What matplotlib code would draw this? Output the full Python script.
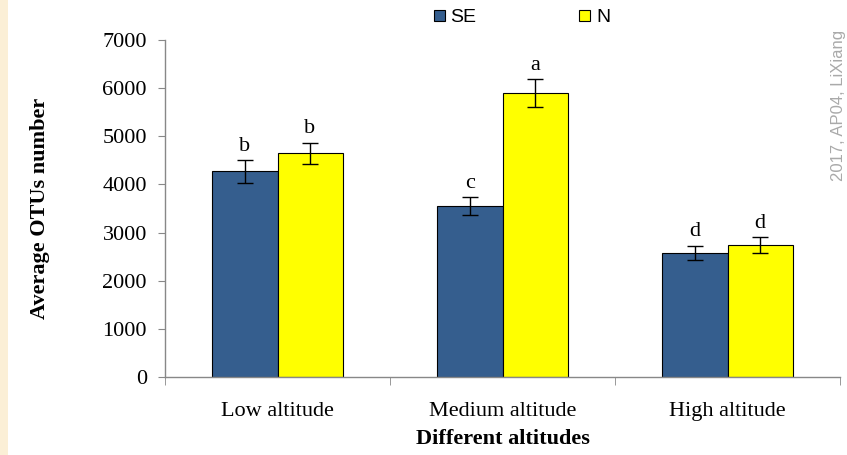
import matplotlib
matplotlib.use("Agg")
import matplotlib.pyplot as plt
from matplotlib.patches import Rectangle, Patch
import numpy as np

categories = ["Low altitude", "Medium altitude", "High altitude"]
series_names = ["SE", "N"]
se_values = [4270, 3550, 2580]
se_errors = [230, 180, 150]
n_values = [4650, 5900, 2740]
n_errors = [220, 290, 160]
se_letters = ["b", "c", "d"]
n_letters = ["b", "a", "d"]
yticks = [0, 1000, 2000, 3000, 4000, 5000, 6000, 7000]

colors = ["#355E8E", "#FFFF00"]

fig = plt.figure(figsize=(8.47, 4.55), dpi=100)
fig.patches.append(Rectangle((0, 0), 8/847, 1, transform=fig.transFigure,
                             facecolor="#FBEFD6", edgecolor="none", zorder=0))
ax = fig.add_axes([165/847, 1 - 377/455, (840 - 165)/847, (377 - 40)/455])

serif = ["Liberation Serif", "DejaVu Serif"]
x = np.arange(len(categories))
w = 0.289
for vals, errs, lets, col, off in [(se_values, se_errors, se_letters, colors[0], -w/2),
                                   (n_values, n_errors, n_letters, colors[1], w/2)]:
    ax.bar(x + off, vals, width=w, color=col, edgecolor="black", linewidth=0.8, zorder=2)
    ax.errorbar(x + off, vals, yerr=errs, fmt="none", ecolor="black",
                elinewidth=1, capsize=6, capthick=1, zorder=3)
    for xi, v, e, l in zip(x + off, vals, errs, lets):
        ax.text(xi, v + e + 90, l, ha="center", va="bottom", family=serif, fontsize=16)

ax.set_xlim(-0.5, 2.5)
ax.set_ylim(0, 7000)
ax.set_yticks(yticks)
ax.set_yticklabels([str(t) for t in yticks], family=serif, fontsize=16)
ax.set_xticks(x)
ax.set_xticklabels(categories, family=serif, fontsize=16)
ax.tick_params(axis="x", length=0, pad=18)
ax.set_xticks([-0.5, 0.5, 1.5, 2.5], minor=True)
ax.tick_params(axis="x", which="minor", length=6, color="#888888", direction="out")
ax.tick_params(axis="y", length=5, color="#888888", direction="out", pad=8)
for s in ["top", "right"]:
    ax.spines[s].set_visible(False)
for s in ["left", "bottom"]:
    ax.spines[s].set_color("#888888")
    ax.spines[s].set_linewidth(1)

ax.set_xlabel("Different altitudes", family=serif, fontsize=16, fontweight="bold", labelpad=6)
ax.set_ylabel("Average OTUs number", family=serif, fontsize=16, fontweight="bold", labelpad=38)

handles = [Patch(facecolor=c, edgecolor="black", linewidth=0.8) for c in colors]
leg = fig.legend(handles, series_names, loc="center", bbox_to_anchor=(522/847, 1 - 18/455),
                 ncol=2, frameon=False, handlelength=0.55, handleheight=0.55,
                 handletextpad=0.3, columnspacing=5.3,
                 prop={"family": ["Liberation Sans", "DejaVu Sans"], "size": 14})

fig.text(838/847, 1 - 105/455, "2017, AP04, LiXiang", rotation=90, ha="center", va="center",
         color="#AAAAAA", fontsize=12, family=["Liberation Sans", "DejaVu Sans"])

fig.savefig("out.png", dpi=100)
